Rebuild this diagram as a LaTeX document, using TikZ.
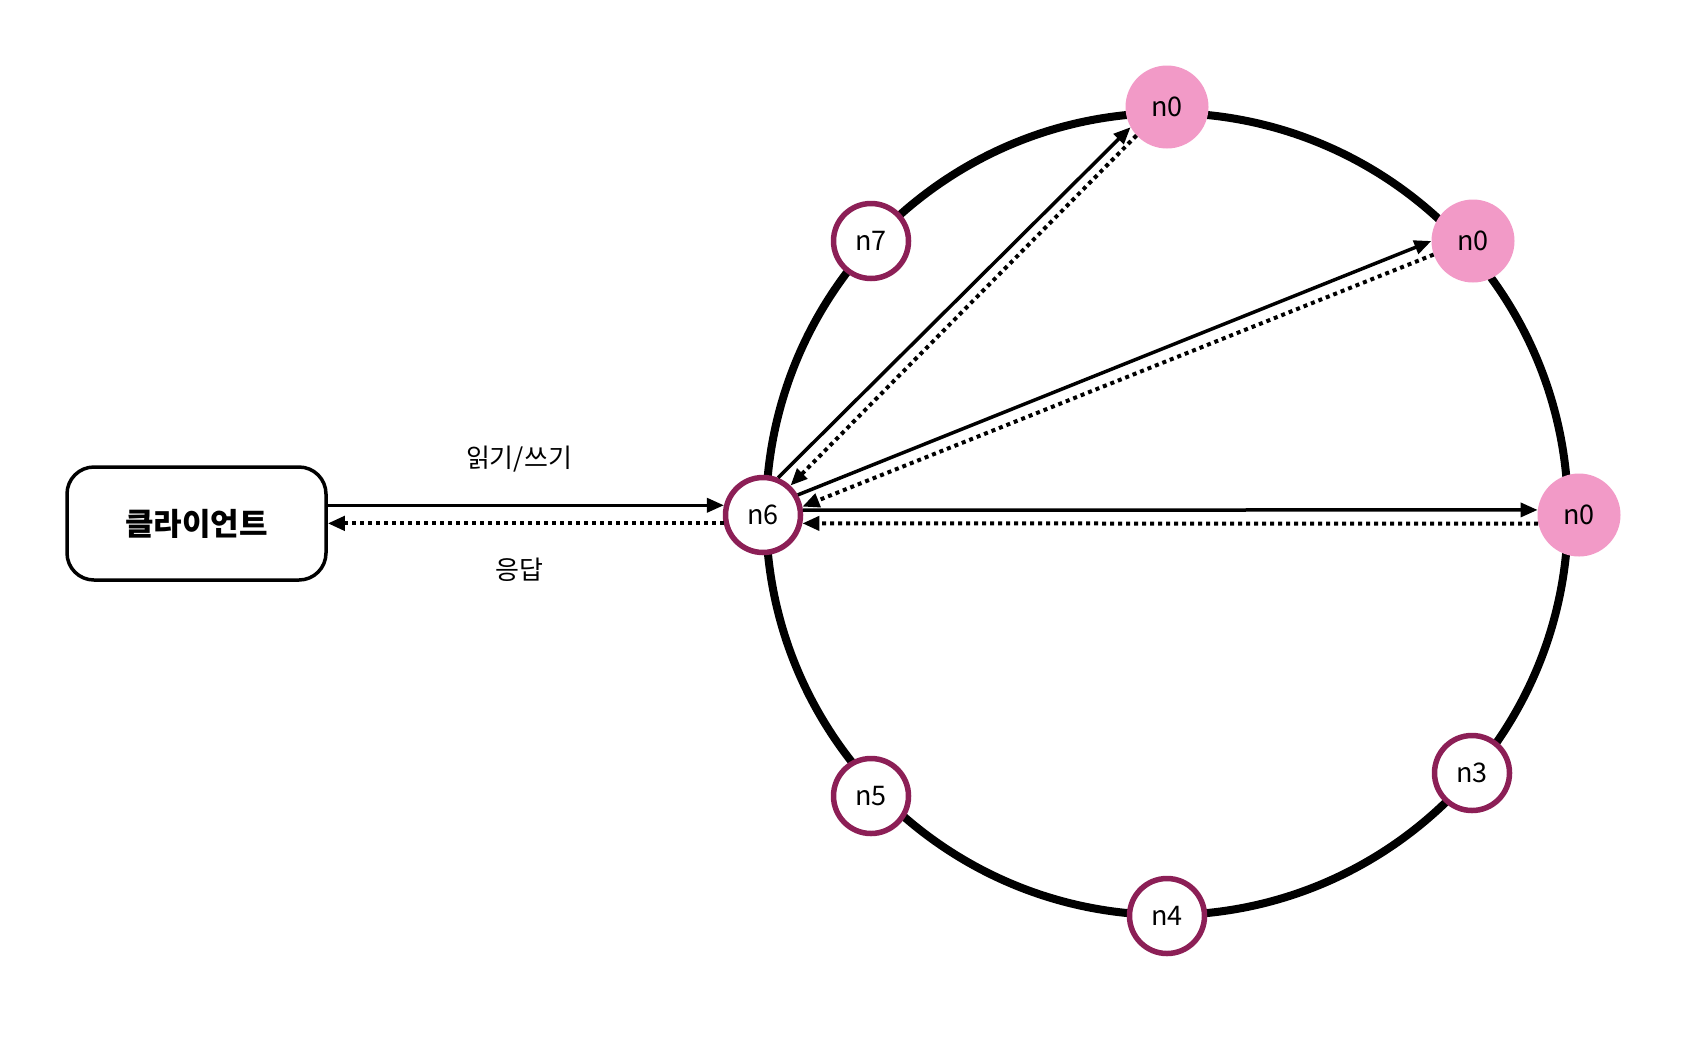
\documentclass[tikz,border=0pt]{standalone}
\usepackage{fontspec}
\setmainfont{Noto Sans CJK KR}
\usetikzlibrary{arrows.meta}
\definecolor{ringpurple}{HTML}{8C1F56}
\definecolor{nodepink}{HTML}{F29AC7}
\begin{document}
\begin{tikzpicture}[x=1pt,y=-1pt,
  ringnode/.style={circle,draw=ringpurple,line width=5.5pt,fill=white,minimum size=75pt,inner sep=0pt,font=\fontsize{27}{30}\selectfont},
  pinknode/.style={circle,fill=nodepink,minimum size=83pt,inner sep=0pt,font=\fontsize{27}{30}\selectfont},
  solidarr/.style={line width=3.5pt,-{Triangle[length=17pt,width=14pt]}},
  dotarr/.style={line width=4pt,dash pattern=on 4pt off 4pt,-{Triangle[length=17pt,width=14pt]}},
  lbl/.style={font=\fontsize{26}{30}\selectfont}]
\useasboundingbox (0,0) rectangle (1704,1042);
\draw[line width=8pt] (1167,514) circle (401);
\node[draw,line width=3.5pt,rounded corners=27pt,fill=white,minimum width=259pt,minimum height=113pt,font=\fontsize{31}{34}\selectfont\bfseries] (client) at (196.5,523.5) {클라이언트};
\node[ringnode] (n6) at (763,515) {n6};
\node[ringnode] (n7) at (871,241) {n7};
\node[ringnode] (n5) at (871,796) {n5};
\node[ringnode] (n4) at (1167,916) {n4};
\node[ringnode] (n3) at (1472,773) {n3};
\node[pinknode] (n0a) at (1167,107) {n0};
\node[pinknode] (n0b) at (1473,241) {n0};
\node[pinknode] (n0c) at (1579,515) {n0};
\node[lbl] (lrw) at (519,459) {읽기/쓰기};
\node[lbl] (lresp) at (519,570) {응답};
\draw[solidarr] (client.east |- n6.166) -- (n6.166);
\draw[dotarr] (n6.192) -- (client.east |- n6.192);
\draw[solidarr] (n6.7) -- (n0c.173);
\draw[dotarr] (n0c.192) -- (n6.348);
\draw[solidarr] (n6.68) -- (n0a.209);
\draw[dotarr] (n0a.223) -- (n6.47);
\draw[solidarr] (n6.30) -- (n0b.180);
\draw[dotarr] (n0b.199) -- (n6.12);
\end{tikzpicture}
\end{document}
